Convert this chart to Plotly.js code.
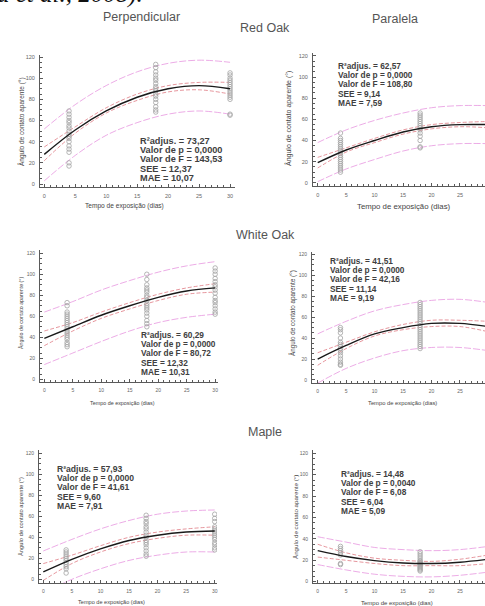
<!DOCTYPE html>
<html>
<head>
<meta charset="utf-8">
<script src="https://cdn.plot.ly/plotly-3.0.1.min.js"></script>
<style>
html,body{margin:0;padding:0;background:#fff;overflow:hidden;}
#chart{width:485px;height:606px;}
</style>
</head>
<body>
<div id="chart"></div>
<script>
// ---------- DATA ----------
const fitX = [0, 5, 10, 15, 20, 25, 30];
const days = [4, 18, 30];

// Red Oak – Perpendicular
const roPerpFit  = [28, 51, 69, 82, 90, 93, 90];
const roPerpCiUp = [35, 54, 72, 85, 93, 96, 96];
const roPerpCiLo = [22, 48, 67, 79, 87, 89, 85];
const roPerpPiUp = [52, 75, 93, 106, 114, 117, 115];
const roPerpPiLo = [3, 27, 46, 58, 66, 69, 66];
const roPerpD4  = [17, 20, 30, 33, 36, 40, 43, 45, 47, 50, 53, 55, 58, 60, 63, 66, 69];
const roPerpD18 = [68, 70, 73, 77, 80, 83, 85, 88, 90, 92, 95, 98, 100, 103, 106, 110, 113];
const roPerpD30 = [65, 66, 80, 82, 84, 86, 88, 90, 92, 94, 96, 98, 100, 103, 105];
const roPerpStats = ["73,27", "0,0000", "143,53", "12,37", "10,07"];

// Red Oak – Paralela
const roParFit  = [19, 31, 40, 48, 53, 55, 55];
const roParCiUp = [24, 33, 42, 50, 55, 57, 58];
const roParCiLo = [14, 29, 38, 46, 51, 53, 52];
const roParPiUp = [38, 50, 59, 66, 71, 73, 73];
const roParPiLo = [1, 13, 22, 30, 35, 37, 37];
const roParD4  = [10, 12, 14, 16, 18, 20, 22, 24, 26, 28, 30, 32, 34, 36, 38, 40, 42, 47];
const roParD18 = [33, 34, 40, 44, 47, 50, 52, 54, 56, 58, 60, 62, 64, 66];
const roParD30 = [];
const roParStats = ["62,57", "0,0000", "108,80", "9,14", "7,59"];

// White Oak – Perpendicular
const woPerpFit  = [39, 50, 61, 70, 78, 84, 87];
const woPerpCiUp = [46, 54, 64, 73, 81, 87, 91];
const woPerpCiLo = [32, 46, 58, 67, 75, 81, 83];
const woPerpPiUp = [64, 74, 85, 94, 102, 108, 112];
const woPerpPiLo = [14, 25, 36, 46, 54, 59, 62];
const woPerpD4  = [31, 33, 35, 38, 40, 42, 44, 46, 48, 50, 52, 54, 56, 58, 60, 62, 64, 70, 73];
const woPerpD18 = [50, 53, 56, 60, 63, 66, 68, 70, 72, 75, 78, 80, 83, 85, 87, 90, 95, 100];
const woPerpD30 = [62, 64, 67, 70, 73, 75, 78, 82, 85, 88, 90, 93, 96, 100, 103, 106];
const woPerpStats = ["60,29", "0,0000", "80,72", "12,32", "10,31"];

// White Oak – Paralela
const woParFit  = [20, 33, 44, 50, 54, 54, 51];
const woParCiUp = [26, 36, 46, 53, 57, 57, 56];
const woParCiLo = [14, 30, 42, 48, 51, 51, 46];
const woParPiUp = [44, 56, 66, 72, 76, 77, 74];
const woParPiLo = [-3, 11, 21, 28, 31, 31, 28];
const woParD4  = [14, 15, 17, 20, 23, 26, 28, 30, 32, 34, 36, 40, 45, 48, 50];
const woParD18 = [30, 32, 34, 36, 38, 40, 42, 44, 46, 48, 50, 52, 54, 56, 58, 60, 62, 64, 66, 68, 70, 72, 74];
const woParD30 = [];
const woParStats = ["41,51", "0,0000", "42,16", "11,14", "9,19"];

// Maple – Perpendicular
const mpPerpFit  = [7, 19, 29, 37, 42, 45, 46];
const mpPerpCiUp = [15, 23, 32, 40, 45, 48, 50];
const mpPerpCiLo = [-1, 15, 26, 34, 39, 42, 42];
const mpPerpPiUp = [27, 38, 48, 56, 62, 65, 66];
const mpPerpPiLo = [-13, 0, 10, 18, 23, 26, 26];
const mpPerpD4  = [6, 10, 12, 14, 16, 18, 20, 22, 24, 26, 28];
const mpPerpD18 = [22, 24, 27, 30, 33, 35, 37, 40, 42, 45, 48, 50, 53, 55, 58, 61];
const mpPerpD30 = [28, 30, 33, 35, 38, 40, 42, 44, 46, 48, 50, 55, 58, 62];
const mpPerpStats = ["57,93", "0,0000", "41,61", "9,60", "7,91"];

// Maple – Paralela
const mpParFit  = [29, 23.5, 19.7, 17.5, 17, 18.2, 21];
const mpParCiUp = [35, 27, 22, 20, 19, 21, 25];
const mpParCiLo = [23, 20, 17, 15, 15, 15, 17];
const mpParPiUp = [42, 37, 32, 30, 29, 30, 33];
const mpParPiLo = [16, 11, 7, 5, 4.5, 6, 9];
const mpParD4  = [16, 17, 25, 27, 29, 31, 33];
const mpParD18 = [10, 11, 12, 13, 14, 15, 16, 17, 18, 19, 20, 22, 24, 26, 28];
const mpParD30 = [];
const mpParStats = ["14,48", "0,0040", "6,08", "6,04", "5,09"];

const statLabels = ["R²adjus. = ", "Valor de p = ", "Valor de F = ", "SEE = ", "MAE = "];
const xTitle = "Tempo de exposição (dias)";
const yTitle = "Ângulo de contato aparente (°)";

// ---------- LAYOUT HELPERS ----------
const W = 485, H = 606;
const px = v => v / W;
const py = v => 1 - v / H;

const panels = [
  {fit: roPerpFit, ciU: roPerpCiUp, ciL: roPerpCiLo, piU: roPerpPiUp, piL: roPerpPiLo, d: [roPerpD4, roPerpD18, roPerpD30], stats: roPerpStats,
   xpx: [40, 235], xr: [-0.69, 30.8], ypx: [55, 187], yr: [-2.83, 121.9],
   st: {x: 138, y: 141, fs: 9.2}, xt: {x: 125, y: 206, fs: 6.6}, yt: {x: 21, y: 122, fs: 6.5}, tf: 5.5},
  {fit: roParFit, ciU: roParCiUp, ciL: roParCiLo, piU: roParPiUp, piL: roParPiLo, d: [roParD4, roParD18, roParD30], stats: roParStats,
   xpx: [313, 485], xr: [-0.83, 29.4], ypx: [53, 186], yr: [-3.1, 122.8],
   st: {x: 336, y: 66, fs: 8.3}, xt: {x: 404, y: 206, fs: 7.8}, yt: {x: 288, y: 119, fs: 7}, tf: 5.5},
  {fit: woPerpFit, ciU: woPerpCiUp, ciL: woPerpCiLo, piU: woPerpPiUp, piL: woPerpPiLo, d: [woPerpD4, woPerpD18, woPerpD30], stats: woPerpStats,
   xpx: [40, 218], xr: [-0.76, 30.5], ypx: [250, 381.7], yr: [-2.3, 123.1],
   st: {x: 139, y: 335, fs: 8.3}, xt: {x: 122, y: 403, fs: 5.4}, yt: {x: 21, y: 313, fs: 5.3}, tf: 5},
  {fit: woParFit, ciU: woParCiUp, ciL: woParCiLo, piU: woParPiUp, piL: woParPiLo, d: [woParD4, woParD18, woParD30], stats: woParStats,
   xpx: [312, 485], xr: [-1.0, 29.4], ypx: [251.7, 383.3], yr: [-3.2, 122.5],
   st: {x: 328, y: 261, fs: 8.3}, xt: {x: 402, y: 403, fs: 5.8}, yt: {x: 292, y: 313, fs: 6.3}, tf: 5},
  {fit: mpPerpFit, ciU: mpPerpCiUp, ciL: mpPerpCiLo, piU: mpPerpPiUp, piL: mpPerpPiLo, d: [mpPerpD4, mpPerpD18, mpPerpD30], stats: mpPerpStats,
   xpx: [39, 217], xr: [-0.75, 30.4], ypx: [450, 582.7], yr: [-3.2, 123.1],
   st: {x: 55, y: 469, fs: 8.6}, xt: {x: 111, y: 602, fs: 5.6}, yt: {x: 21, y: 517, fs: 5.8}, tf: 5},
  {fit: mpParFit, ciU: mpParCiUp, ciL: mpParCiLo, piU: mpParPiUp, piL: mpParPiLo, d: [mpParD4, mpParD18, mpParD30], stats: mpParStats,
   xpx: [313, 485], xr: [-0.83, 29.4], ypx: [450, 583.3], yr: [-1.5, 123.1],
   st: {x: 339, y: 474, fs: 8.3}, xt: {x: 397, y: 603, fs: 6}, yt: {x: 295, y: 517, fs: 6.2}, tf: 5}
];

const traces = [];
const layout = {
  width: W, height: H,
  margin: {l: 0, r: 0, t: 0, b: 0},
  paper_bgcolor: '#ffffff', plot_bgcolor: 'rgba(0,0,0,0)',
  showlegend: false,
  font: {family: 'Liberation Sans, Arial, sans-serif', color: '#444'},
  annotations: []
};

const axisColor = '#5a5a5a';
const piColor = 'rgba(228,140,220,0.8)';
const ciColor = 'rgba(215,90,100,0.8)';

panels.forEach((p, i) => {
  const n = i === 0 ? '' : String(i + 1);
  const xa = 'x' + n, ya = 'y' + n;
  const common = {xaxis: xa, yaxis: ya, hoverinfo: 'skip'};
  // prediction bands
  traces.push(Object.assign({x: fitX, y: p.piU, mode: 'lines', line: {color: piColor, width: 0.9, dash: '7px,2px', shape: 'spline'}}, common));
  traces.push(Object.assign({x: fitX, y: p.piL, mode: 'lines', line: {color: piColor, width: 0.9, dash: '7px,2px', shape: 'spline'}}, common));
  // confidence bands
  traces.push(Object.assign({x: fitX, y: p.ciU, mode: 'lines', line: {color: ciColor, width: 0.8, dash: '4px,2px', shape: 'spline'}}, common));
  traces.push(Object.assign({x: fitX, y: p.ciL, mode: 'lines', line: {color: ciColor, width: 0.8, dash: '4px,2px', shape: 'spline'}}, common));
  // observations
  const ox = [], oy = [];
  p.d.forEach((vals, k) => vals.forEach(v => { ox.push(days[k]); oy.push(v); }));
  traces.push(Object.assign({x: ox, y: oy, mode: 'markers',
    marker: {symbol: 'circle-open', size: 4.5, color: '#a3a3a3', line: {width: 0.8, color: '#a3a3a3'}}}, common));
  // fitted curve
  traces.push(Object.assign({x: fitX, y: p.fit, mode: 'lines', line: {color: '#1a1a1a', width: 1.4, shape: 'spline'}}, common));

  layout['xaxis' + n] = {
    domain: [px(p.xpx[0]), Math.min(1, px(p.xpx[1]))], range: p.xr, anchor: ya,
    showline: true, linecolor: axisColor, linewidth: 1, showgrid: false, zeroline: false,
    ticks: 'inside', ticklen: 3, tickcolor: axisColor, tickvals: [0, 5, 10, 15, 20, 25, 30],
    tickfont: {size: p.tf, color: '#666'}, ticklabelstandoff: 3,
    minor: {ticks: 'inside', ticklen: 2, dtick: 1, tick0: 0, tickcolor: axisColor, showgrid: false},
    fixedrange: true
  };
  layout['yaxis' + n] = {
    domain: [py(p.ypx[1]), py(p.ypx[0])], range: p.yr, anchor: xa,
    showline: true, linecolor: axisColor, linewidth: 1, showgrid: false, zeroline: false,
    ticks: 'inside', ticklen: 3, tickcolor: axisColor, tickvals: [0, 20, 40, 60, 80, 100, 120],
    tickfont: {size: p.tf, color: '#666'}, ticklabelstandoff: 3,
    minor: {ticks: 'inside', ticklen: 2, dtick: 5, tick0: 0, tickcolor: axisColor, showgrid: false},
    fixedrange: true
  };

  // statistics block
  p.stats.forEach((s, k) => {
    layout.annotations.push({
      xref: 'paper', yref: 'paper', x: px(p.st.x), y: py(p.st.y + k * 9.2),
      xanchor: 'left', yanchor: 'middle', showarrow: false,
      text: '<b>' + statLabels[k] + s + '</b>',
      font: {size: p.st.fs, color: '#404040', family: 'Liberation Sans, Arial, sans-serif'}
    });
  });
  // axis titles
  layout.annotations.push({
    xref: 'paper', yref: 'paper', x: px(p.xt.x), y: py(p.xt.y), xanchor: 'center', yanchor: 'middle',
    showarrow: false, text: xTitle, font: {size: p.xt.fs, color: '#444'}
  });
  layout.annotations.push({
    xref: 'paper', yref: 'paper', x: px(p.yt.x), y: py(p.yt.y), xanchor: 'center', yanchor: 'middle',
    showarrow: false, text: yTitle, textangle: -90, font: {size: p.yt.fs, color: '#444'}
  });
});

// figure headings
const headings = [
  {t: 'Perpendicular', x: 141, y: 17},
  {t: 'Red Oak', x: 265, y: 28},
  {t: 'Paralela', x: 395, y: 19},
  {t: 'White Oak', x: 265, y: 235},
  {t: 'Maple', x: 265, y: 432}
];
headings.forEach(h => layout.annotations.push({
  xref: 'paper', yref: 'paper', x: px(h.x), y: py(h.y), xanchor: 'center', yanchor: 'middle',
  showarrow: false, text: h.t, font: {size: 12.5, color: '#555'}
}));

// cut-off caption text from the page above
layout.annotations.push({
  xref: 'paper', yref: 'paper', x: px(-5), y: py(10), xanchor: 'left', yanchor: 'bottom',
  showarrow: false, text: '<i>a et al., 2008).</i>',
  font: {size: 25, color: '#111', family: 'Liberation Serif, Times New Roman, serif'}
});

Plotly.newPlot('chart', traces, layout, {staticPlot: true, displayModeBar: false});
</script>
</body>
</html>
